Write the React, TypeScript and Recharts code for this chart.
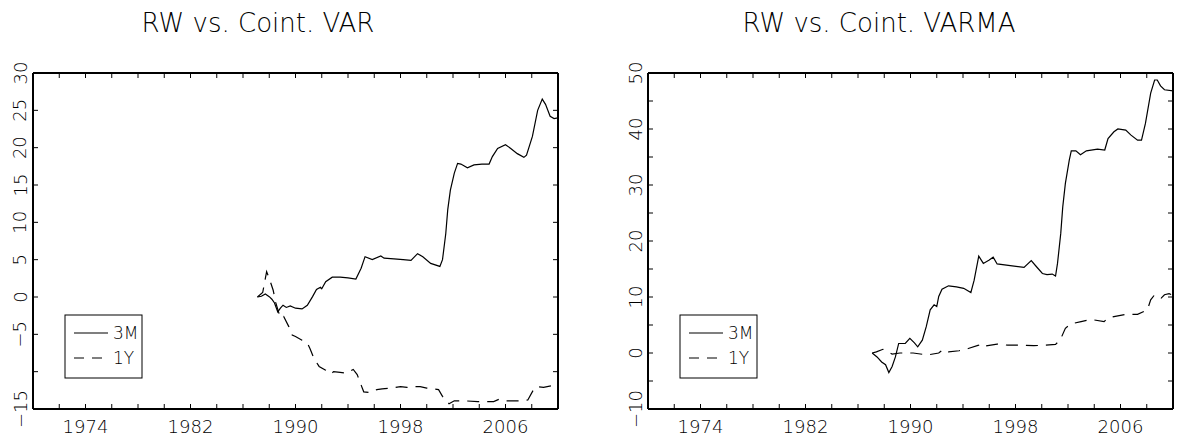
import React from 'react';
import { LineChart, Line, XAxis, YAxis } from 'recharts';

// RW vs. Coint. VAR (left panel)
const varT3M = [1987.1, 1987.4, 1987.7, 1988.0, 1988.2, 1988.4, 1988.65, 1988.85, 1989.05, 1989.3, 1989.6, 1990.0, 1990.5, 1990.9, 1991.3, 1991.6, 1991.9, 1992.0, 1992.3, 1992.8, 1993.4, 1994.0, 1994.6, 1995.0, 1995.3, 1995.85, 1996.5, 1996.75, 1997.5, 1998.2, 1998.8, 1999.3, 1999.7, 2000.3, 2001.0, 2001.2, 2001.45, 2001.6, 2001.8, 2002.1, 2002.35, 2002.6, 2003.1, 2003.6, 2004.2, 2004.75, 2005.0, 2005.4, 2006.0, 2006.4, 2006.9, 2007.4, 2007.6, 2008.05, 2008.45, 2008.8, 2009.05, 2009.4, 2009.7, 2010.0];
const var3M = [0, 0.1, 0.4, 0.05, -0.3, -0.8, -2.0, -1.5, -1.1, -1.4, -1.2, -1.5, -1.6, -1.1, 0.05, 1.0, 1.3, 1.1, 2.05, 2.65, 2.65, 2.55, 2.4, 3.85, 5.4, 5.0, 5.5, 5.2, 5.1, 5.0, 4.9, 5.8, 5.4, 4.5, 4.1, 5.0, 8.5, 11.7, 14.3, 16.6, 17.9, 17.8, 17.3, 17.7, 17.8, 17.8, 18.8, 19.9, 20.4, 19.9, 19.2, 18.7, 19.0, 21.5, 25.0, 26.5, 25.8, 24.2, 23.9, 24.0];
const varT1Y = [1987.1, 1987.5, 1987.8, 1988.0, 1988.3, 1988.5, 1988.85, 1989.1, 1989.5, 1989.75, 1990.0, 1990.5, 1990.9, 1991.1, 1991.4, 1991.8, 1992.3, 1992.7, 1992.9, 1993.4, 1993.9, 1994.4, 1994.7, 1995.0, 1995.2, 1995.7, 1996.2, 1996.6, 1997.3, 1998.0, 1998.5, 1999.0, 1999.5, 2000.0, 2000.9, 2001.2, 2001.7, 2002.1, 2002.8, 2003.9, 2005.1, 2005.5, 2006.0, 2007.0, 2007.7, 2008.2, 2008.4, 2008.9, 2009.5, 2010.0];
const var1Y = [0, 0.6, 3.4, 2.5, 0.9, -0.8, -2.8, -2.6, -4.0, -5.1, -5.3, -5.8, -6.15, -6.9, -8.2, -9.3, -9.8, -10.3, -10.0, -10.1, -10.2, -9.7, -10.4, -11.8, -12.7, -12.8, -12.4, -12.3, -12.2, -12.0, -12.1, -12.0, -12.0, -12.2, -12.4, -13.3, -14.3, -13.9, -13.9, -14.0, -14.0, -13.7, -13.9, -13.9, -13.8, -12.2, -12.0, -12.1, -11.9, -11.9];

// RW vs. Coint. VARMA (right panel)
const varmaT3M = [1987.08, 1987.45, 1987.8, 1988.1, 1988.35, 1988.6, 1988.85, 1989.1, 1989.6, 1989.95, 1990.3, 1990.55, 1990.9, 1991.2, 1991.5, 1991.8, 1992.0, 1992.15, 1992.4, 1992.9, 1993.5, 1994.05, 1994.6, 1994.85, 1995.2, 1995.55, 1996.0, 1996.3, 1996.6, 1997.6, 1998.65, 1999.2, 1999.6, 2000.05, 2000.4, 2000.8, 2001.05, 2001.2, 2001.45, 2001.6, 2001.8, 2002.1, 2002.25, 2002.6, 2002.95, 2003.4, 2004.25, 2004.8, 2005.05, 2005.5, 2005.8, 2006.4, 2006.8, 2007.3, 2007.6, 2007.9, 2008.3, 2008.6, 2008.8, 2009.05, 2009.35, 2010.0];
const varma3M = [0, -0.7, -1.6, -2.1, -3.5, -2.4, -0.7, 1.7, 1.7, 2.6, 1.8, 1.1, 2.3, 4.7, 7.7, 8.6, 8.3, 10.1, 11.4, 12.0, 11.8, 11.55, 10.8, 13.0, 17.3, 16.0, 16.6, 17.1, 15.9, 15.6, 15.3, 16.5, 15.4, 14.2, 14.0, 14.1, 13.75, 16.0, 21.4, 26.1, 30.3, 34.5, 36.1, 36.1, 35.4, 36.1, 36.4, 36.25, 38.3, 39.5, 40.0, 39.8, 38.9, 38.0, 38.0, 41.0, 46.4, 48.75, 48.75, 47.7, 47.0, 46.8];
const varmaT1Y = [1987.08, 1987.4, 1987.9, 1988.6, 1989.2, 1990.2, 1991.3, 1992.15, 1992.5, 1992.9, 1993.7, 1994.4, 1995.2, 1995.4, 1995.6, 1996.6, 1997.4, 1998.4, 1999.4, 2000.2, 2001.05, 2001.4, 2001.8, 2002.2, 2003.0, 2003.75, 2004.75, 2005.0, 2005.5, 2006.4, 2007.3, 2008.05, 2008.3, 2008.6, 2009.1, 2009.35, 2009.7, 2010.0];
const varma1Y = [0, 0.2, 0.66, -0.2, 0, 0, -0.35, 0, 0.66, 0.2, 0.4, 0.8, 1.4, 1.6, 1.2, 1.6, 1.4, 1.4, 1.3, 1.4, 1.55, 2.3, 4.4, 5.2, 5.6, 6.0, 5.6, 6.2, 6.5, 6.9, 6.9, 7.7, 9.5, 10.4, 9.8, 10.4, 10.6, 10.3];

const xTicks = [1970, 1972, 1974, 1976, 1978, 1980, 1982, 1984, 1986, 1988, 1990, 1992, 1994, 1996, 1998, 2000, 2002, 2004, 2006, 2008, 2010];
const xLabels = [1974, 1982, 1990, 1998, 2006];
const varYTicks = [-15, -10, -5, 0, 5, 10, 15, 20, 25, 30];
const varYLabels = [-15, -5, 0, 5, 10, 15, 20, 25, 30];
const varmaYTicks = [-10, -5, 0, 5, 10, 15, 20, 25, 30, 35, 40, 45, 50];
const varmaYLabels = [-10, 0, 10, 20, 30, 40, 50];

const FONT = '"DejaVu Sans", sans-serif';
const TICK = 5;

const zip = (t: number[], v: number[]) => t.map((x, i) => ({ t: x, v: v[i] }));

const fmt = (v: number) => (v < 0 ? `\u2212${Math.abs(v)}` : `${v}`);

const BottomTick = (props: any) => {
  const { x, y, payload } = props;
  const v = payload.value;
  return (
    <g>
      <line x1={x} y1={y} x2={x} y2={y - TICK} stroke="#000" strokeWidth={1} />
      {xLabels.includes(v) && (
        <text x={x} y={y + 24} textAnchor="middle" fontFamily={FONT} fontWeight={200} fontSize={18} fill="#000">
          {v}
        </text>
      )}
    </g>
  );
};

const TopTick = (props: any) => {
  const { x, y } = props;
  return <line x1={x} y1={y} x2={x} y2={y + TICK} stroke="#000" strokeWidth={1} />;
};

const makeLeftTick = (labels: number[]) => (props: any) => {
  const { x, y, payload } = props;
  const v = payload.value;
  return (
    <g>
      <line x1={x} y1={y} x2={x + TICK} y2={y} stroke="#000" strokeWidth={1} />
      {labels.includes(v) && (
        <text
          x={x - 13}
          y={y}
          transform={`rotate(-90 ${x - 13} ${y})`}
          textAnchor="middle"
          dominantBaseline="central"
          fontFamily={FONT}
          fontWeight={200}
          fontSize={18}
          fill="#000"
        >
          {fmt(v)}
        </text>
      )}
    </g>
  );
};

const RightTick = (props: any) => {
  const { x, y } = props;
  return <line x1={x} y1={y} x2={x - TICK} y2={y} stroke="#000" strokeWidth={1} />;
};

const LeftTickVar = makeLeftTick(varYLabels);
const LeftTickVarma = makeLeftTick(varmaYLabels);

interface PanelProps {
  left: number;
  margin: { top: number; right: number; bottom: number; left: number };
  s3M: { t: number; v: number }[];
  s1Y: { t: number; v: number }[];
  yDomain: [number, number];
  yTicks: number[];
  leftTick: (p: any) => React.ReactElement;
}

function Panel({ left, margin, s3M, s1Y, yDomain, yTicks, leftTick }: PanelProps) {
  const axisLine = { stroke: '#000', strokeWidth: 2 };
  return (
    <div style={{ position: 'absolute', left, top: 0 }}>
      <LineChart width={593} height={441} margin={margin}>
        <XAxis
          xAxisId="b"
          type="number"
          dataKey="t"
          domain={[1970, 2010]}
          ticks={xTicks}
          interval={0}
          height={1}
          tickSize={0}
          tickMargin={0}
          tickLine={false}
          axisLine={axisLine}
          tick={BottomTick}
          allowDataOverflow
        />
        <XAxis
          xAxisId="t"
          orientation="top"
          type="number"
          dataKey="t"
          domain={[1970, 2010]}
          ticks={xTicks}
          interval={0}
          height={1}
          tickSize={0}
          tickMargin={0}
          tickLine={false}
          axisLine={axisLine}
          tick={TopTick}
          allowDataOverflow
        />
        <YAxis
          yAxisId="l"
          type="number"
          domain={yDomain}
          ticks={yTicks}
          interval={0}
          width={1}
          tickSize={0}
          tickMargin={0}
          tickLine={false}
          axisLine={axisLine}
          tick={leftTick}
          allowDataOverflow
        />
        <YAxis
          yAxisId="r"
          orientation="right"
          type="number"
          domain={yDomain}
          ticks={yTicks}
          interval={0}
          width={1}
          tickSize={0}
          tickMargin={0}
          tickLine={false}
          axisLine={axisLine}
          tick={RightTick}
          allowDataOverflow
        />
        <Line
          xAxisId="b"
          yAxisId="l"
          data={s3M}
          dataKey="v"
          type="linear"
          stroke="#000"
          strokeWidth={1.2}
          dot={false}
          isAnimationActive={false}
        />
        <Line
          xAxisId="b"
          yAxisId="l"
          data={s1Y}
          dataKey="v"
          type="linear"
          stroke="#000"
          strokeWidth={1.2}
          strokeDasharray="12 8"
          dot={false}
          isAnimationActive={false}
        />
      </LineChart>
    </div>
  );
}

function Overlay() {
  const legend = (dx: number) => (
    <g transform={`translate(${dx},0)`}>
      <rect x={65} y={315} width={77} height={63} fill="#fff" stroke="#000" strokeWidth={1} />
      <line x1={74} y1={333} x2={108} y2={333} stroke="#000" strokeWidth={1.2} />
      <line x1={74} y1={358} x2={108} y2={358} stroke="#000" strokeWidth={1.2} strokeDasharray="10 8" />
      <text x={113} y={339} fontFamily={FONT} fontWeight={200} fontSize={17} fill="#000">3M</text>
      <text x={113} y={364} fontFamily={FONT} fontWeight={200} fontSize={17} fill="#000">1Y</text>
    </g>
  );
  return (
    <svg width={1186} height={441} style={{ position: 'absolute', left: 0, top: 0, pointerEvents: 'none' }}>
      <text x={258} y={32} textAnchor="middle" fontFamily={FONT} fontWeight={200} fontSize={26} fill="#000">
        RW vs. Coint. VAR
      </text>
      <text x={879} y={32} textAnchor="middle" fontFamily={FONT} fontWeight={200} fontSize={26} fill="#000">
        RW vs. Coint. VARMA
      </text>
      {legend(0)}
      {legend(615)}
    </svg>
  );
}

export default function App() {
  return (
    <div style={{ position: 'absolute', left: 0, top: 0, width: 1186, height: 441, background: '#fff' }}>
      <Panel
        left={0}
        margin={{ top: 72, right: 34, bottom: 31, left: 32 }}
        s3M={zip(varT3M, var3M)}
        s1Y={zip(varT1Y, var1Y)}
        yDomain={[-15, 30]}
        yTicks={varYTicks}
        leftTick={LeftTickVar}
      />
      <Panel
        left={593}
        margin={{ top: 72, right: 12, bottom: 31, left: 54 }}
        s3M={zip(varmaT3M, varma3M)}
        s1Y={zip(varmaT1Y, varma1Y)}
        yDomain={[-10, 50]}
        yTicks={varmaYTicks}
        leftTick={LeftTickVarma}
      />
      <Overlay />
    </div>
  );
}
